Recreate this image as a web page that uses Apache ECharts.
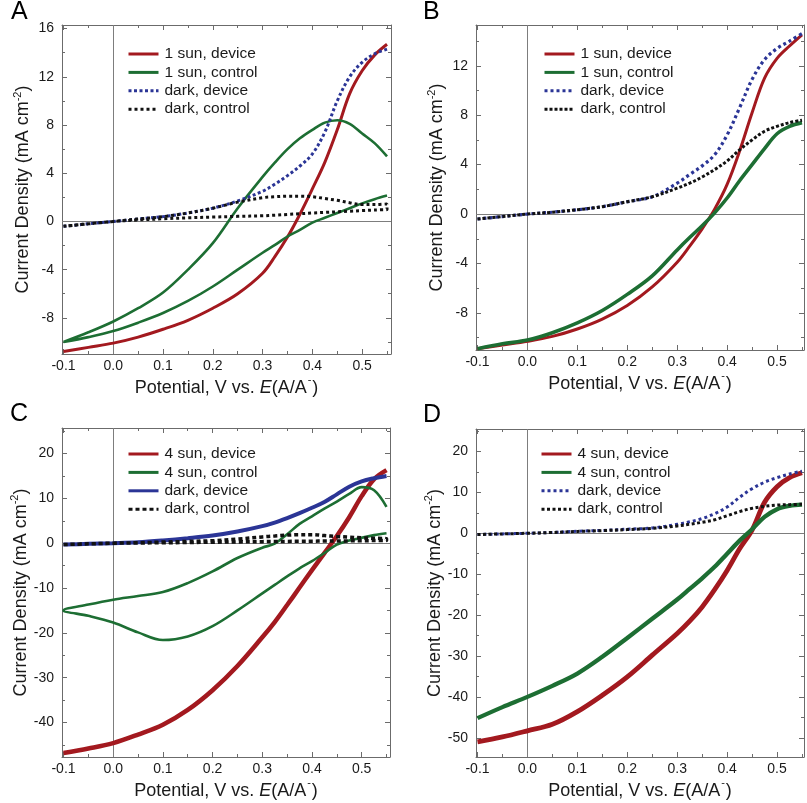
<!DOCTYPE html>
<html><head><meta charset="utf-8">
<script src="https://cdn.jsdelivr.net/npm/echarts@6/dist/echarts.min.js"></script>
<style>html,body{margin:0;padding:0;background:#fff}#c{width:807px;height:803px}</style>
</head><body><div id="c"></div><script>
// ---------- data ----------
const potential = [-0.1,-0.05,0,0.05,0.1,0.15,0.2,0.25,0.3,0.325,0.35,0.375,0.4,0.425,0.45,0.475,0.5,0.525,0.55];
const xMajor = [-0.1,0,0.1,0.2,0.3,0.4,0.5];
const xMinor = [-0.05,0.05,0.15,0.25,0.35,0.45,0.55];

// Panel A (1 sun)
const aSunDevice       = [-10.8,-10.45,-10.1,-9.6,-8.95,-8.2,-7.2,-6.0,-4.3,-2.9,-1.3,0.6,2.7,4.9,7.6,10.6,12.5,13.8,14.7];
const aSunControlUpper = [-10.0,-9.2,-8.3,-7.2,-5.9,-4.0,-1.8,1.1,3.7,4.9,6.0,6.9,7.6,8.2,8.4,8.1,7.3,6.5,5.4];
const aSunControlLower = [-10.0,-9.6,-9.1,-8.4,-7.6,-6.6,-5.4,-4.0,-2.6,-1.95,-1.25,-0.7,-0.1,0.3,0.7,1.1,1.5,1.85,2.15];
const aDarkDevice      = [-0.4,-0.2,0,0.2,0.4,0.7,1.1,1.7,2.5,3.1,3.8,4.6,5.6,7.4,10.0,12.0,13.2,13.9,14.3];
const aDarkControlFwd  = [-0.4,-0.2,0,0.2,0.4,0.7,1.1,1.6,1.97,2.05,2.1,2.1,2.05,1.9,1.75,1.55,1.4,1.4,1.45];
const aDarkControlRev  = [-0.4,-0.2,0,0.12,0.22,0.3,0.36,0.42,0.47,0.52,0.58,0.64,0.7,0.75,0.8,0.85,0.9,0.95,1.0];
const aTicksY = [-8,-4,0,4,8,12,16];
const aMinorY = [-10,-6,-2,2,6,10,14];

// Panel B (1 sun)
const bSunDevice   = [-10.9,-10.6,-10.3,-9.9,-9.3,-8.5,-7.4,-5.9,-3.9,-2.6,-1.2,0.4,2.4,5.1,8.2,11.0,12.6,13.6,14.5];
const bSunControl  = [-10.9,-10.5,-10.2,-9.6,-8.8,-7.8,-6.5,-5.0,-2.9,-1.9,-0.95,0.1,1.3,2.7,4.0,5.3,6.5,7.1,7.4];
const bDarkDevice  = [-0.4,-0.2,0,0.15,0.35,0.6,1.0,1.4,2.5,3.2,3.9,4.8,6.4,8.6,10.9,12.5,13.4,14.0,14.6];
const bDarkControl = [-0.4,-0.2,0,0.15,0.35,0.6,1.0,1.4,2.1,2.5,3.0,3.6,4.3,5.2,6.0,6.7,7.1,7.4,7.6];
const bTicksY = [-8,-4,0,4,8,12];
const bMinorY = [-10,-6,-2,2,6,10,14];

// Panel C (4 sun)
const cSunDevice       = [-46.8,-45.8,-44.6,-42.7,-40.5,-37.2,-32.8,-27.4,-21.0,-17.6,-13.8,-9.9,-6.0,-2.2,1.6,5.8,10.5,14.3,16.3];
const cSunControlUpper = [-15.0,-13.7,-12.6,-11.8,-10.9,-8.9,-6.3,-3.3,-1.0,-0.1,2.0,4.3,6.0,7.7,9.3,11.0,12.5,11.8,8.1];
const cSunControlLower = [-15.0,-16.2,-17.7,-19.9,-21.6,-20.8,-18.5,-15.0,-11.2,-9.3,-7.4,-5.6,-4.0,-2.2,-0.3,0.6,1.2,1.8,2.2];
const cDarkDevice      = [-0.3,-0.15,0,0.2,0.6,1.1,1.7,2.6,3.8,4.6,5.6,6.7,7.9,9.2,10.9,12.6,13.8,14.5,15.0];
const cDarkControlFwd  = [-0.3,-0.15,0,0.1,0.25,0.4,0.55,0.9,1.4,1.6,1.8,1.9,1.9,1.7,1.5,1.35,1.2,1.1,1.0];
const cDarkControlRev  = [-0.3,-0.15,0,0.05,0.1,0.15,0.22,0.28,0.35,0.38,0.4,0.42,0.45,0.48,0.5,0.52,0.55,0.58,0.6];
const cTicksY = [-40,-30,-20,-10,0,10,20];
const cMinorY = [-45,-35,-25,-15,-5,5,15,25];

// Panel D (4 sun)
const dSunDevice   = [-51.0,-49.8,-48.3,-46.7,-43.6,-39.6,-35.1,-29.8,-24.5,-21.5,-18.0,-13.8,-9.1,-3.8,0.8,7.6,11.4,13.6,14.8];
const dSunControl  = [-45.2,-42.5,-40.0,-37.3,-34.3,-30.2,-25.6,-20.9,-16.2,-13.6,-11.0,-8.2,-5.0,-1.8,1.0,4.0,5.9,6.7,7.0];
const dDarkDevice  = [-0.3,-0.15,0,0.2,0.5,0.7,1.0,1.3,2.2,2.8,3.6,4.8,6.4,8.8,10.9,12.5,13.6,14.5,15.2];
const dDarkControl = [-0.3,-0.15,0,0.2,0.45,0.65,0.9,1.2,1.8,2.2,2.7,3.3,4.3,5.3,6.1,6.6,6.9,7.0,7.1];
const dTicksY = [-50,-40,-30,-20,-10,0,10,20];
const dMinorY = [-45,-35,-25,-15,-5,5,15,25];

// ---------- helpers ----------
const FONT = '"Liberation Sans", Arial, Helvetica, sans-serif';
const FRAME = '#6b6b6b';
const TXT = '#1a1a1a';
const RED = '#a3191f', GREEN = '#1d6e33', BLUE = '#2b3596', BLACK = '#111111';
const pair = ys => potential.map((x, i) => [x, ys[i]]);
const loopFwdRev = (f, r) => pair(f).concat(pair(r).reverse());
const loopVertexLeft = (u, l) => pair(u).reverse().concat(pair(l).slice(1));

const panels = [
  {letter:'A', grid:{left:62, top:25, width:329, height:329}, x:[-0.103,0.558], y:[-11.0,16.3],
   yT:aTicksY, yM:aMinorY, legend:{left:127, top:46}, lt:[11,0], sfx:'',
   series:[
     {name:'1 sun, device', color:RED, w:3, data:pair(aSunDevice)},
     {name:'1 sun, control', color:GREEN, w:2.6, data:loopVertexLeft(aSunControlUpper, aSunControlLower)},
     {name:'dark, device', color:BLUE, w:3, dash:[3,2.5], data:pair(aDarkDevice)},
     {name:'dark, control', color:BLACK, w:3, dash:[3,3], data:loopFwdRev(aDarkControlFwd, aDarkControlRev)}
   ]},
  {letter:'B', grid:{left:476, top:25, width:328, height:325}, x:[-0.103,0.554], y:[-11.0,15.3],
   yT:bTicksY, yM:bMinorY, legend:{left:543, top:46}, lt:[423,0], sfx:' ',
   series:[
     {name:'1 sun, device', color:RED, w:3, data:pair(bSunDevice)},
     {name:'1 sun, control', color:GREEN, w:3.6, data:pair(bSunControl)},
     {name:'dark, device', color:BLUE, w:3.2, dash:[3,3], data:pair(bDarkDevice)},
     {name:'dark, control', color:BLACK, w:3, dash:[3,2], data:pair(bDarkControl)}
   ]},
  {letter:'C', grid:{left:62, top:428, width:328, height:329}, x:[-0.103,0.557], y:[-47.7,25.7],
   yT:cTicksY, yM:cMinorY, legend:{left:127, top:446}, lt:[10,402], sfx:'  ',
   series:[
     {name:'4 sun, device', color:RED, w:4.5, data:pair(cSunDevice)},
     {name:'4 sun, control', color:GREEN, w:2.6, data:loopVertexLeft(cSunControlUpper, cSunControlLower)},
     {name:'dark, device', color:BLUE, w:4, data:pair(cDarkDevice)},
     {name:'dark, control', color:BLACK, w:3.5, dash:[4,3], data:loopFwdRev(cDarkControlFwd, cDarkControlRev)}
   ]},
  {letter:'D', grid:{left:476, top:429, width:328, height:328}, x:[-0.103,0.554], y:[-54.7,25.5],
   yT:dTicksY, yM:dMinorY, legend:{left:540, top:446}, lt:[423,403], sfx:'   ',
   series:[
     {name:'4 sun, device', color:RED, w:4.8, data:pair(dSunDevice)},
     {name:'4 sun, control', color:GREEN, w:4.3, data:pair(dSunControl)},
     {name:'dark, device', color:BLUE, w:3, dash:[3,3], data:pair(dDarkDevice)},
     {name:'dark, control', color:BLACK, w:3, dash:[3,2.5], data:pair(dDarkControl)}
   ]}
];

const grids = [], xAxes = [], yAxes = [], series = [], legends = [], graphics = [];
const rich = {
  a:{fontSize:18, fontFamily:FONT, color:TXT, verticalAlign:'bottom'},
  i:{fontSize:18, fontFamily:FONT, color:TXT, fontStyle:'italic', verticalAlign:'bottom'},
  b:{fontSize:11, fontFamily:FONT, color:TXT, verticalAlign:'bottom', padding:[0,0,9,0]},
  c:{fontSize:11, fontFamily:FONT, color:TXT, verticalAlign:'bottom', padding:[0,1,12,1]}
};
const NP = panels.length;

// main grids (data + major ticks) then overlaid grids carrying only the minor ticks
panels.forEach(p => grids.push(Object.assign({containLabel:false}, p.grid)));
panels.forEach(p => grids.push(Object.assign({containLabel:false}, p.grid)));

panels.forEach((p, g) => {
  const gm = g + NP;
  const xb = (gi) => ({type:'value', gridIndex:gi, min:p.x[0], max:p.x[1], splitLine:{show:false}, silent:true});
  const yb = (gi) => ({type:'value', gridIndex:gi, min:p.y[0], max:p.y[1], splitLine:{show:false}, silent:true});
  const line = {show:true, onZero:false, lineStyle:{color:FRAME, width:1}};
  const noLine = {show:false, onZero:false};
  const tick = (vals, len) => ({show:true, inside:true, length:len, customValues:vals, lineStyle:{color:FRAME, width:1}});
  xAxes.push(
    Object.assign(xb(g), {position:'bottom', axisLine:line, axisTick:tick(xMajor,5),
      axisLabel:{show:true, customValues:xMajor, formatter:v => v.toFixed(1), fontSize:14, fontFamily:FONT, color:TXT, margin:5},
      name:'{a|Potential, V vs. }{i|E}{a|(A/A}{c|-}{a|)}', nameLocation:'middle', nameGap:20,
      nameTextStyle:{rich:rich}}),
    Object.assign(xb(g), {position:'top', axisLine:line, axisTick:tick(xMajor,5), axisLabel:{show:false}}),
    Object.assign(xb(gm), {position:'bottom', axisLine:noLine, axisTick:tick(xMinor,3), axisLabel:{show:false}}),
    Object.assign(xb(gm), {position:'top', axisLine:noLine, axisTick:tick(xMinor,3), axisLabel:{show:false}})
  );
  yAxes.push(
    Object.assign(yb(g), {position:'left', axisLine:line, axisTick:tick(p.yT,5),
      axisLabel:{show:true, customValues:p.yT, formatter:v => String(v), fontSize:14, fontFamily:FONT, color:TXT, margin:8},
      name:'{a|Current Density (mA cm}{b|-2}{a|)}', nameLocation:'middle', nameRotate:90, nameGap:30,
      nameTextStyle:{rich:rich}}),
    Object.assign(yb(g), {position:'right', axisLine:line, axisTick:tick(p.yT,5), axisLabel:{show:false}}),
    Object.assign(yb(gm), {position:'left', axisLine:noLine, axisTick:tick(p.yM,3), axisLabel:{show:false}}),
    Object.assign(yb(gm), {position:'right', axisLine:noLine, axisTick:tick(p.yM,3), axisLabel:{show:false}})
  );
  const names = [];
  p.series.forEach((s, k) => {
    const nm = s.name + p.sfx;
    names.push(nm);
    const ser = {
      type:'line', name:nm, xAxisIndex:4*g, yAxisIndex:4*g, data:s.data,
      symbol:'none', showSymbol:false, smooth:0.35, z:3, animation:false, silent:true,
      lineStyle:{color:s.color, width:s.w, type:s.dash ? s.dash : 'solid', cap:'butt'},
      itemStyle:{color:s.color}
    };
    if (k === 0) {
      ser.markLine = {silent:true, symbol:['none','none'], z:1, animation:false, label:{show:false},
        lineStyle:{color:'#7d7d7d', width:1, type:'solid'}, emphasis:{disabled:true},
        data:[{xAxis:0}, {yAxis:0}]};
    }
    series.push(ser);
  });
  legends.push({left:p.legend.left, top:p.legend.top, orient:'vertical', itemWidth:30, itemHeight:14, itemGap:2.4,
    selectedMode:false, data:names, lineStyle:{width:3}, itemStyle:{opacity:0, borderWidth:0}, padding:0,
    textStyle:{fontSize:15.5, lineHeight:16, fontFamily:FONT, color:TXT, padding:[0,0,0,1]}});
  graphics.push({type:'text', left:p.lt[0], top:p.lt[1], style:{text:p.letter, fontSize:25, fontFamily:FONT, fill:'#000'}});
});

const chart = echarts.init(document.getElementById('c'), null, {renderer:'canvas'});
chart.setOption({
  backgroundColor:'#ffffff', animation:false,
  grid:grids, xAxis:xAxes, yAxis:yAxes, series:series, legend:legends, graphic:graphics
});
</script></body></html>
